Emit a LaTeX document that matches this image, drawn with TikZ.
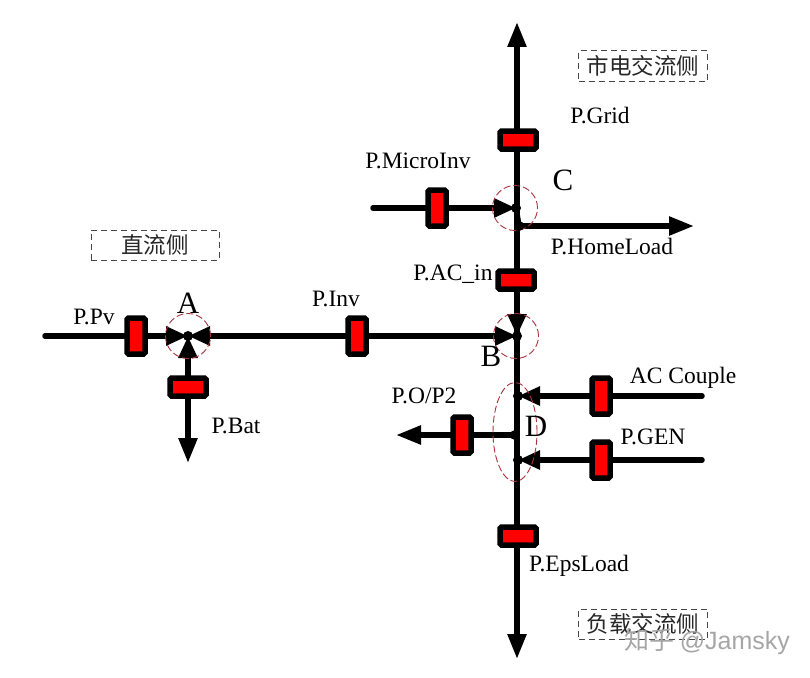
\documentclass[tikz,border=0pt]{standalone}
\usepackage{fontspec}
\setmainfont{Liberation Serif}
\newfontfamily\cjk{Noto Sans CJK SC}
\newfontfamily\wmfont{Liberation Sans}
\usetikzlibrary{arrows.meta,shapes.geometric}
\definecolor{ringred}{RGB}{170,50,60}
\definecolor{boxgray}{RGB}{70,70,70}
\pgfdeclarelayer{paper}
\pgfdeclarelayer{wires}
\pgfsetlayers{paper,wires,main}
\tikzset{
  x=1pt,y=-1pt,
  bus/.style={line width=5.5pt,draw=black,line cap=round},
  headed/.style={bus,line cap=butt,-{Triangle[length=25pt,width=18pt]}},
  inhead/.style={bus,-{Triangle[length=22pt,width=18pt]}},
  hsensor/.style={draw=black,fill=red,line width=5.5pt,rounded corners=1.5pt,minimum width=36pt,minimum height=18pt,inner sep=0pt,outer sep=0pt},
  vsensor/.style={draw=black,fill=red,line width=5.5pt,rounded corners=1.5pt,minimum width=18pt,minimum height=36pt,inner sep=0pt,outer sep=0pt},
  junction/.style={circle,fill=black,minimum size=10pt,inner sep=0pt,outer sep=0pt},
  ring/.style={circle,draw=ringred,line width=0.9pt,dash pattern=on 7pt off 3pt,minimum size=45pt,inner sep=0pt},
  ringoval/.style={ellipse,draw=ringred,line width=0.9pt,dash pattern=on 7pt off 3pt,minimum width=44pt,minimum height=99pt,inner sep=0pt},
  lbl/.style={font=\fontsize{23.5pt}{25pt}\selectfont,text=black,inner sep=0pt},
  big/.style={font=\fontsize{31pt}{33pt}\selectfont,text=black,inner sep=0pt},
  side/.style={draw=boxgray,line width=1pt,dash pattern=on 6pt off 4pt,font=\cjk\fontsize{22.5pt}{24pt}\selectfont,text=black!85,minimum height=30pt,inner sep=0pt},
  mark text/.style={font=\fontsize{25pt}{27pt}\selectfont,text=black!35,inner sep=0pt},
}
\begin{document}
\begin{tikzpicture}
\useasboundingbox (0,0) rectangle (810,677);
\begin{pgfonlayer}{paper}
\fill[white] (0,0) rectangle (810,677);
\end{pgfonlayer}
% rings
\node[ring] (ringA) at (188,336) {};
\node[ring] (ringB) at (516,336) {};
\node[ring] (ringC) at (515,208) {};
\node[ringoval] (ringD) at (515,432) {};
% end points
\coordinate (top) at (517,22);
\coordinate (bottom) at (517,659);
\coordinate (pvstart) at (45,336);
\coordinate (batend) at (188,463);
\coordinate (microstart) at (373,208);
\coordinate (homeend) at (694,226);
\coordinate (opend) at (396,435);
\coordinate (acstart) at (702,396);
\coordinate (genstart) at (702,460);
% junctions
\node[junction] (A) at (188,336) {};
\node[junction] (B) at (517,336) {};
\node[junction] (C) at (516,208) {};
\node[junction] (H) at (519,226) {};
\node[junction] (D1) at (518,396) {};
\node[junction] (D2) at (515,435) {};
\node[junction] (D3) at (518,460) {};
% sensors
\node[hsensor] (sGrid) at (518,140) {};
\node[hsensor] (sACin) at (516,280) {};
\node[hsensor] (sBat) at (188,387) {};
\node[hsensor] (sEps) at (518,536) {};
\node[vsensor] (sMicro) at (437,208) {};
\node[vsensor] (sInv) at (357,336) {};
\node[vsensor] (sPv) at (136,336) {};
\node[vsensor] (sAC) at (601,396) {};
\node[vsensor] (sGen) at (601,460) {};
\node[vsensor] (sOP) at (462,435) {};
% connectors, under the sensors and dots
\begin{pgfonlayer}{wires}
\draw[headed] (B.center) -- (top);
\draw[headed] (B.center) -- (bottom);
\draw[bus] (C.center) -- (H.center);
\draw[headed] (H.center) -- (homeend);
\draw[inhead] (microstart) -- (C.center);
\draw[inhead] (517,292) -- (B.center);
\draw[inhead] (sInv.center) -- (B.center);
\draw[inhead] (sInv.center) -- (A.center);
\draw[inhead] (pvstart) -- (A.center);
\draw[inhead] (sBat.center) -- (A.center);
\draw[headed] (sBat.center) -- (batend);
\draw[inhead] (acstart) -- (D1.center);
\draw[inhead] (genstart) -- (D3.center);
\draw[headed] (D2.center) -- (opend);
\end{pgfonlayer}
% labels
\node[lbl] (lGrid) at (600,116) {P.Grid};
\node[lbl] (lMicro) at (418,161) {P.MicroInv};
\node[lbl] (lHome) at (612,247) {P.HomeLoad};
\node[lbl] (lACin) at (453,274) {P.AC\_in};
\node[lbl] (lInv) at (336,299) {P.Inv};
\node[lbl] (lPv) at (94,317) {P.Pv};
\node[lbl] (lBat) at (236,426) {P.Bat};
\node[lbl] (lOP) at (424,396) {P.O/P2};
\node[lbl] (lAC) at (683,378) {AC Couple};
\node[lbl] (lGen) at (653,437) {P.GEN};
\node[lbl] (lEps) at (579,566) {P.EpsLoad};
\node[big] (lA) at (188,303) {A};
\node[big] (lB) at (491,356) {B};
\node[big] (lC) at (563,180) {C};
\node[big] (lD) at (536,426) {D};
% side boxes
\node[side,minimum width=128pt] (bDC) at (155,245) {直流侧};
\node[side,minimum width=129pt] (bGrid) at (643,66) {市电交流侧};
\node[side,minimum width=129pt] (bLoad) at (643,624) {负载交流侧};
% watermark
\node[mark text] (wm) at (707,642) {\cjk 知乎 \wmfont @Jamsky};
\end{tikzpicture}
\end{document}
